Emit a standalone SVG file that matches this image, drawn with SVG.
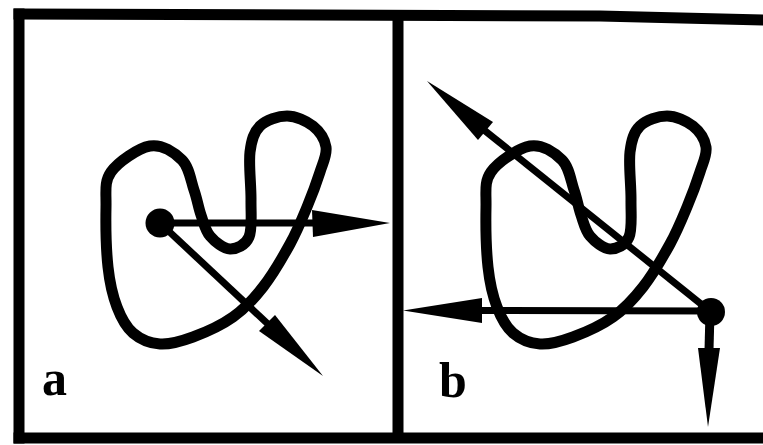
<svg xmlns="http://www.w3.org/2000/svg" width="763" height="445" viewBox="0 0 763 445">
<style>
.frame{fill:none;stroke:#000;stroke-width:11;stroke-linecap:square}
.curve{fill:none;stroke:#000;stroke-width:11;stroke-linejoin:round}
.shaft{fill:none;stroke:#000;stroke-width:7}
.head{fill:#000;stroke:none}
.dot{fill:#000}
.lbl{font-family:"Liberation Serif","DejaVu Serif",serif;font-weight:bold;font-size:50px;fill:#000}
</style>
<defs>
<path id="loop" d="M150,146 C162,143.8 174.7,152.7 182,160 C189.3,167.3 190.8,180.8 194,190 C197.2,199.2 198.3,207.3 201,215 C203.7,222.7 205.2,230.3 210,236 C214.8,241.7 223.5,248.8 230,249 C236.5,249.2 245.5,245.2 249,237 C252.5,228.8 250.8,214.2 251,200 C251.2,185.8 248.5,164.3 250,152 C251.5,139.7 253.8,132 260,126 C266.2,120 278.2,116 287,116 C295.8,116 306.5,120.8 313,126 C319.5,131.2 324.8,139.3 326,147 C327.2,154.7 323.2,162 320,172 C316.8,182 312,195 307,207 C302,219 297.3,230.7 290,244 C282.7,257.3 272.5,274.8 263,287 C253.5,299.2 244.7,308.7 233,317 C221.3,325.3 205.2,332.5 193,337 C180.8,341.5 170,344.7 160,344 C150,343.3 140.2,339.2 133,333 C125.8,326.8 121.2,318 117,307 C112.8,296 109.8,283.7 108,267 C106.2,250.3 105.7,222.7 106,207 C106.3,191.3 104,182 111,172 C118,162 138,148.2 150,146 Z"/>
</defs>
<g id="frame">
<line class="frame" x1="19" y1="14" x2="19" y2="438"/>
<polyline class="frame" points="19,14 600,16 763,20"/>
<line class="frame" x1="19" y1="438" x2="763" y2="438"/>
<line class="frame" x1="398" y1="16" x2="398" y2="434" style="stroke-linecap:butt"/>
</g>
<g id="panel-a">
<use href="#loop" class="curve"/>
<circle class="dot" cx="160" cy="223" r="14.5"/>
<text class="lbl" x="42" y="395">a</text>
</g>
<g id="panel-b">
<use href="#loop" class="curve" transform="translate(380,0)"/>
<circle class="dot" cx="711" cy="312" r="14"/>
<text class="lbl" x="439" y="397">b</text>
</g>
<g id="connectors">
<line class="shaft" x1="160" y1="223" x2="315" y2="223"/>
<polygon class="head" points="312,210 390,223 313,237"/>
<line class="shaft" x1="160" y1="223" x2="269" y2="325"/>
<polygon class="head" points="275,315 323,376 259,331"/>
<line class="shaft" x1="711" y1="311" x2="480" y2="310.5"/>
<polygon class="head" points="482,298 403,310.5 482,323"/>
<line class="shaft" x1="711" y1="312" x2="484" y2="130"/>
<polygon class="head" points="493,122 427,81 478,140"/>
<line class="shaft" x1="710" y1="312" x2="709" y2="350" style="stroke-width:9"/>
<polygon class="head" points="698,348 720,348 708,427"/>
</g>
</svg>
